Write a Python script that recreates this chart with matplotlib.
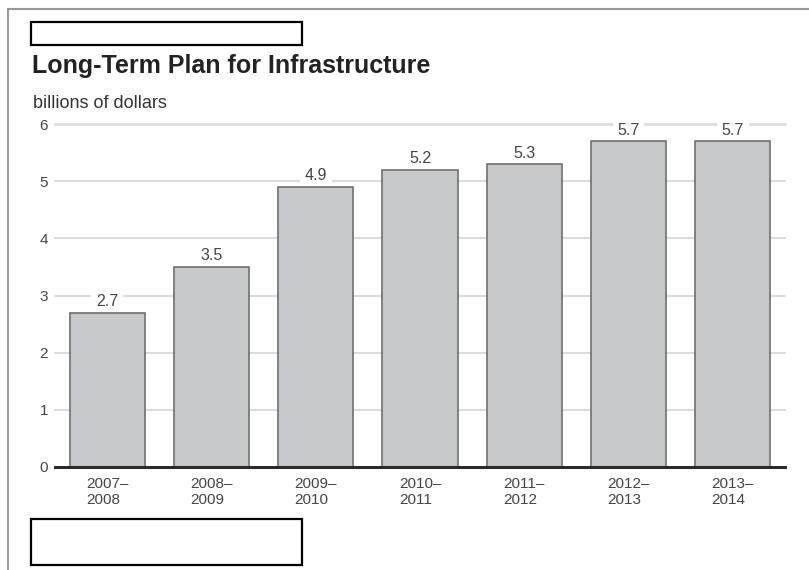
import matplotlib
matplotlib.use("Agg")
import matplotlib.pyplot as plt
from matplotlib.patches import Rectangle
from matplotlib.lines import Line2D

plt.rcParams['font.family'] = ['Liberation Sans', 'DejaVu Sans']

# data
periods = ["2007–\n2008", "2008–\n2009", "2009–\n2010", "2010–\n2011",
           "2011–\n2012", "2012–\n2013", "2013–\n2014"]
values = [2.7, 3.5, 4.9, 5.2, 5.3, 5.7, 5.7]
yticks = [0, 1, 2, 3, 4, 5, 6]

W, H = 809, 570
fig = plt.figure(figsize=(W / 100, H / 100), dpi=100)

def fx(px):
    return px / W

def fy(py):
    return 1 - py / H

# page frame (gray lines at top and left)
fig.add_artist(Line2D([fx(8), 1], [fy(9), fy(9)], color="#9a9a9a", lw=1.5))
fig.add_artist(Line2D([fx(8), fx(8)], [fy(9), 0], color="#9a9a9a", lw=1.5))

# empty outlined boxes
for top, h in [(22, 23), (519, 46)]:
    fig.add_artist(Rectangle((fx(31), fy(top + h)), fx(271), h / H,
                             facecolor="white", edgecolor="black", lw=1.6))

fig.text(fx(32), fy(66), "Long-Term Plan for Infrastructure", fontsize=18,
         fontweight="bold", color="#222222", va="center", ha="left")
fig.text(fx(33), fy(103), "billions of dollars", fontsize=13,
         color="#333333", va="center", ha="left")

ax = fig.add_axes([fx(55), fy(467), fx(785) - fx(55), fy(124) - fy(467)])
x = list(range(len(values)))
ax.bar(x, values, width=0.72, color="#c8c9cb", edgecolor="#6f6f6f",
       linewidth=1.2, zorder=3)

# value labels: white box breaks the gridline, bars drawn on top of it
for xi, v in zip(x, values):
    ax.annotate(f"{v}", (xi, v), xytext=(0, 2.5), textcoords="offset points",
                ha="center", va="bottom", fontsize=11.5, color="#444444",
                bbox=dict(boxstyle="square,pad=0.3", fc="white", ec="none"),
                zorder=2)

ax.set_xlim(-0.5, len(values) - 0.5)
ax.set_ylim(0, 6)
ax.set_yticks(yticks)
ax.set_xticks(x)
ax.set_xticklabels(periods, fontsize=11, color="#444444", multialignment="left")
ax.tick_params(axis="y", length=0, pad=5, labelsize=11, labelcolor="#444444")
ax.tick_params(axis="x", length=0, pad=7)

for y in yticks[1:]:
    ax.axhline(y, color="#d4d4d4" if y < 6 else "#dedede",
               lw=1.2 if y < 6 else 2, zorder=1, clip_on=False)
ax.axhline(0, color="#2b2b2b", lw=2.2, zorder=5, clip_on=False)

for s in ax.spines.values():
    s.set_visible(False)
ax.patch.set_visible(False)

fig.savefig("out.png", dpi=100)
